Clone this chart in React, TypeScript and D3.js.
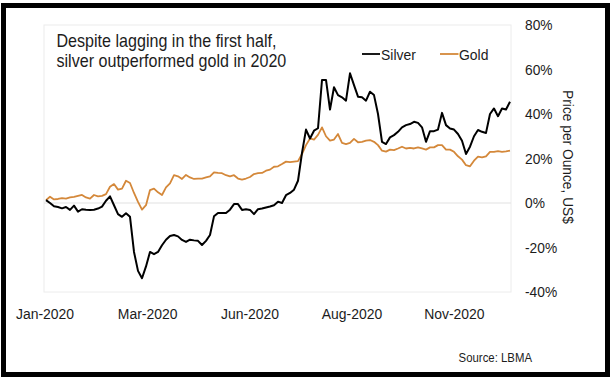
import React from "react";
import * as d3 from "d3";

// Percentage change vs. 2 Jan 2020, sampled at equal steps through the year
const silver: number[] = [
  1.3, 0, -1.5, -1.8, -2.4, -1.8, -3.1, -1.2, -3.9, -2.8, -3.0, -3.1, -3.0, -2.5, -1.6, 1.0,
  3.0, -1.0, -5.0, -6.2, -4.6, -6.2, -22, -30.5, -33.8, -28.5, -22, -23, -22, -19, -16.5, -14.8,
  -14.4, -15, -16.6, -17.5, -16.5, -16.8, -17, -18.9, -17, -14.4, -6, -4.5, -4.5, -4.5, -3.0, -0.5,
  -0.5, -3.1, -2.8, -3.1, -5, -2.8, -2.5, -2.0, -1.6, -1.0, 0.6, 0, 3.5, 4.5, 6, 10,
  22.5, 33, 29, 32.5, 33.6, 55.3, 55.3, 42, 52, 48.5, 47.5, 46, 58.3, 53, 47.8, 47.5,
  46, 50, 48.5, 40, 27.5, 26.5, 29.5, 30.5, 32, 34, 35, 35.5, 36.5, 36, 34, 27.5,
  32.3, 32.3, 33, 40.5, 35, 33.5, 33, 31, 28, 22, 25.3, 30, 32.8, 32, 31.5, 40,
  42.5, 39, 42.5, 42, 45.5,
];

const gold: number[] = [
  1.3, 2.8, 1.6, 1.8, 2.2, 2.0, 2.5, 2.8, 3.2, 3.6, 2.5, 2.0, 3.6, 3.0, 3.2, 4.0,
  7.3, 8.5, 6.0, 6.5, 10.0, 9.0, 4.5, 0.5, -3, -1, 5.8, 6.5, 4.8, 3.6, 7, 8.8,
  12.5, 12, 10.8, 12.6, 11.5, 10.8, 11, 11, 11.5, 12, 13.8, 13.5, 13.4, 12.5, 12, 12.5,
  11, 10.5, 11, 11.7, 13, 13.4, 13.5, 14.5, 15, 16.3, 16.5, 17.5, 18.6, 18.4, 18.6, 18.8,
  22, 26, 29, 28.5, 30.6, 34, 30, 28, 28.5, 31, 27, 26.5, 27, 28.8, 27.3, 27.5,
  28, 28.3, 27.5, 26, 23.5, 23.1, 24, 23.8, 24.5, 25.3, 24.5, 24.8, 24.5, 25, 24.5, 24,
  25, 25, 26, 26, 24, 24, 23, 21, 19.5, 17, 16.5, 19, 20.8, 20.5, 21, 23,
  23, 23.3, 23, 23.2, 23.5,
];

const xTickLabels: string[] = ["Jan-2020", "Mar-2020", "Jun-2020", "Aug-2020", "Nov-2020"];
const xTickIndex: number[] = [-0.25, 25.4, 51, 76.5, 102.1];
const yTicks: number[] = [-40, -20, 0, 20, 40, 60, 80];

const FONT = "'Liberation Sans', Arial, Helvetica, sans-serif";
const TEXT = "#1c1c1c";
const GOLD = "#D4883A";

function Label(props: {
  x: number;
  y: number;
  size: number;
  sx?: number;
  anchor?: "start" | "middle" | "end";
  children: React.ReactNode;
}) {
  const { x, y, size, sx = 1, anchor = "start", children } = props;
  return (
    <text
      transform={`translate(${x},${y}) scale(${sx},1)`}
      textAnchor={anchor}
      fontSize={size}
      fill={TEXT}
    >
      {children}
    </text>
  );
}

export default function App() {
  const W = 610;
  const H = 379;
  const plot = { left: 44, right: 511, top: 25, bottom: 292 };

  const x = d3.scaleLinear().domain([0, silver.length - 1]).range([46, 510]);
  const y = d3.scaleLinear().domain([-40, 80]).range([plot.bottom, plot.top]);

  const line = d3
    .line<number>()
    .x((_, i) => x(i))
    .y((d) => y(d));

  return (
    <svg
      width={W}
      height={H}
      style={{ position: "absolute", left: 0, top: 0, background: "#fff" }}
      fontFamily={FONT}
    >
      <rect x={0} y={0} width={W} height={H} fill="#fff" />
      {/* plot frame */}
      <rect
        x={plot.left}
        y={plot.top}
        width={plot.right - plot.left}
        height={plot.bottom - plot.top}
        fill="none"
        stroke="#ececec"
        strokeWidth={1}
      />
      {/* zero line */}
      <line x1={plot.left} x2={plot.right} y1={y(0)} y2={y(0)} stroke="#e2e2e2" strokeWidth={1.2} />

      <path d={line(gold) || ""} fill="none" stroke={GOLD} strokeWidth={1.8} strokeLinejoin="round" />
      <path d={line(silver) || ""} fill="none" stroke="#000" strokeWidth={2} strokeLinejoin="round" />

      {/* y tick labels (right) */}
      {yTicks.map((t) => (
        <Label key={t} x={525} y={y(t) + 5} size={14.5} sx={0.95}>
          {`${t}%`}
        </Label>
      ))}

      {/* y axis title */}
      <text
        transform={`translate(563,157) rotate(90) scale(0.95,1)`}
        textAnchor="middle"
        fontSize={14.5}
        fill={TEXT}
      >
        Price per Ounce, US$
      </text>

      {/* x tick labels */}
      {xTickLabels.map((lab, i) => (
        <Label key={lab} x={x(xTickIndex[i])} y={318.5} size={15.5} sx={0.9} anchor="middle">
          {lab}
        </Label>
      ))}

      {/* title */}
      <Label x={56.5} y={46.5} size={17.5} sx={0.92}>
        Despite lagging in the first half,
      </Label>
      <Label x={56.5} y={66.5} size={17.5} sx={0.92}>
        silver outperformed gold in 2020
      </Label>

      {/* legend */}
      <line x1={362} x2={380} y1={54} y2={54} stroke="#000" strokeWidth={1.8} />
      <Label x={381} y={59.5} size={15} sx={0.93}>
        Silver
      </Label>
      <line x1={440} x2={458.5} y1={54} y2={54} stroke={GOLD} strokeWidth={1.8} />
      <Label x={459} y={59.5} size={15} sx={0.93}>
        Gold
      </Label>

      {/* source */}
      <Label x={532} y={362} size={12} sx={0.95} anchor="end">
        Source: LBMA
      </Label>

      {/* outer border */}
      <rect x={3.5} y={5.5} width={604} height={369} fill="none" stroke="#000" strokeWidth={5} />
    </svg>
  );
}
